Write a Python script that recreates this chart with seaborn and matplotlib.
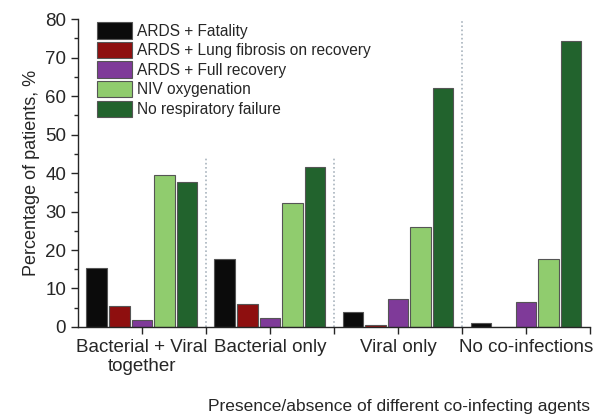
import matplotlib
matplotlib.use("Agg")
import matplotlib.pyplot as plt
from matplotlib.ticker import MultipleLocator, FixedLocator
import pandas as pd
import seaborn as sns

groups = ["Bacterial + Viral\ntogether", "Bacterial only", "Viral only", "No co-infections"]
outcomes = ["ARDS + Fatality", "ARDS + Lung fibrosis on recovery", "ARDS + Full recovery",
            "NIV oxygenation", "No respiratory failure"]
fatality = [15.4, 17.7, 3.8, 1.1]
fibrosis = [5.4, 5.9, 0.5, 0.0]
full_recovery = [1.8, 2.4, 7.3, 6.4]
niv = [39.6, 32.2, 26.1, 17.7]
no_failure = [37.8, 41.5, 62.0, 74.4]
colors = ["#0b0b0b", "#8e0f0f", "#7f3a99", "#90cc6e", "#22632d"]

series = [fatality, fibrosis, full_recovery, niv, no_failure]
rows = []
for outcome, vals in zip(outcomes, series):
    for g, v in zip(groups, vals):
        rows.append({"group": g, "outcome": outcome, "value": v})
df = pd.DataFrame(rows)

sns.set_style("ticks")
plt.rcParams["font.family"] = ["Liberation Sans", "DejaVu Sans"]

fig = plt.figure(figsize=(5.99, 4.16), dpi=100)
ax = fig.add_axes([0.130, 0.214, 0.855, 0.740])

sns.barplot(data=df, x="group", y="value", hue="outcome", order=groups,
            hue_order=outcomes, palette=colors, width=0.88, gap=0.08,
            edgecolor="#555555", linewidth=0.8, saturation=1, ax=ax)

# dotted dividers between groups
ax.vlines([0.5, 1.5], 0, 44, colors="#a9b4bd", linestyles=(0, (1, 1.5)), linewidth=1.2)
ax.vlines([2.5], 0, 80, colors="#a9b4bd", linestyles=(0, (1, 1.5)), linewidth=1.2)

ax.set_xlim(-0.5, 3.5)
ax.set_ylim(0, 80)
ax.yaxis.set_major_locator(MultipleLocator(10))
ax.yaxis.set_minor_locator(MultipleLocator(5))
ax.xaxis.set_minor_locator(FixedLocator([0.5, 1.5, 2.5, 3.5]))
ax.tick_params(axis="both", which="major", labelsize=13.5, length=5, width=1, direction="out")
ax.tick_params(axis="y", which="minor", length=3, width=1)
ax.tick_params(axis="x", which="minor", length=5, width=1)
for s in ["left", "bottom"]:
    ax.spines[s].set_linewidth(1)
sns.despine(ax=ax)

ax.set_ylabel("Percentage of patients, %", fontsize=13)
ax.set_xlabel("")
fig.text(0.985, 0.005, "Presence/absence of different co-infecting agents",
         ha="right", va="bottom", fontsize=12.5)

leg = ax.legend(loc="upper left", bbox_to_anchor=(0.02, 1.02), frameon=False,
                fontsize=11.2, handlelength=2.25, handleheight=1.25,
                labelspacing=0.2, handletextpad=0.3, borderaxespad=0.2)

fig.savefig("out.png", dpi=100)
